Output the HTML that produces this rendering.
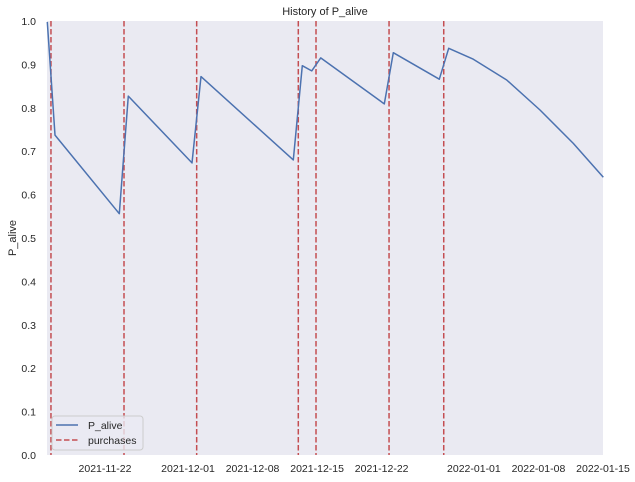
<!DOCTYPE html>
<html><head><meta charset="utf-8"><style>
body{margin:0;background:#fff;}
svg{display:block;font-family:"Liberation Sans",Arial,sans-serif;}
</style></head><body>
<svg id="chart" width="635" height="482" viewBox="0 0 635 482" xmlns="http://www.w3.org/2000/svg">
<rect x="47" y="21" width="556" height="434" fill="#EAEAF2"/>
<g id="marks"></g>
<g id="axes"></g>
<text x="325" y="15" text-anchor="middle" font-size="11" fill="#262626">History of P_alive</text>
<text transform="translate(16,238) rotate(-90)" text-anchor="middle" font-size="11" fill="#262626">P_alive</text>
<g>
<rect x="52" y="416" width="91" height="34" rx="3" fill="#EAEAF2" fill-opacity="0.8" stroke="#cccccc"/>
<line x1="56" y1="425" x2="78" y2="425" stroke="#4C72B0" stroke-width="1.5"/>
<text x="88" y="429" font-size="10.5" fill="#262626">P_alive</text>
<line x1="56" y1="440" x2="78" y2="440" stroke="#C44E52" stroke-width="1.5" stroke-dasharray="5.5,2.5"/>
<text x="88" y="444" font-size="10.5" fill="#262626">purchases</text>
</g>
</svg>
<script>
// days since 2021-11-15 00:00
const lineDays = [0.74,1.58,8.55,9.53,16.43,17.41,27.42,28.39,29.41,30.39,37.29,38.26,43.25,44.27,46.94,50.56,54.17,57.78,61.03];
const lineValues = [0.998,0.737,0.556,0.827,0.673,0.872,0.680,0.897,0.885,0.915,0.809,0.927,0.866,0.937,0.912,0.864,0.795,0.718,0.640];
const purchaseDays = [1.14,9.06,16.94,27.96,29.88,37.80,43.73];
const xTickDays = [7,16,23,30,37,47,54,61];
const xTickLabels = ["2021-11-22","2021-12-01","2021-12-08","2021-12-15","2021-12-22","2022-01-01","2022-01-08","2022-01-15"];
const yTicks = [0,0.1,0.2,0.3,0.4,0.5,0.6,0.7,0.8,0.9,1.0];
const xMin = 0.71, xMax = 61.0;
const X0 = 47, X1 = 603, Y0 = 455, Y1 = 21;
function xScale(d){ return X0 + (d - xMin) / (xMax - xMin) * (X1 - X0); }
function yScale(v){ return Y0 - v * (Y0 - Y1); }
const NS = "http://www.w3.org/2000/svg";
const marks = document.getElementById('marks');
const axes = document.getElementById('axes');
purchaseDays.forEach(function(d){
  const l = document.createElementNS(NS,'line');
  
  
  const x = xScale(d);
  l.setAttribute('x1',x); l.setAttribute('x2',x);
  l.setAttribute('y1',Y1); l.setAttribute('y2',Y0);
  l.setAttribute('stroke','#C44E52'); l.setAttribute('stroke-width','1.5');
  l.setAttribute('stroke-dasharray','5.5,2.5');
  marks.appendChild(l);
});
const pts = lineDays.map(function(d,i){ return xScale(d).toFixed(1)+','+yScale(lineValues[i]).toFixed(1); }).join(' ');
const pl = document.createElementNS(NS,'polyline');


pl.setAttribute('points',pts);
pl.setAttribute('fill','none'); pl.setAttribute('stroke','#4C72B0'); pl.setAttribute('stroke-width','1.5');
pl.setAttribute('stroke-linejoin','round');
marks.appendChild(pl);
yTicks.forEach(function(v){
  const t = document.createElementNS(NS,'text');
  
  
  t.setAttribute('x',36); t.setAttribute('y',yScale(v)+4);
  t.setAttribute('text-anchor','end'); t.setAttribute('font-size','10.5'); t.setAttribute('fill','#262626');
  t.textContent = v.toFixed(1);
  axes.appendChild(t);
});
xTickDays.forEach(function(d,i){
  const t = document.createElementNS(NS,'text');
  
  
  t.setAttribute('x',xScale(d)); t.setAttribute('y',472);
  t.setAttribute('text-anchor','middle'); t.setAttribute('font-size','10.5'); t.setAttribute('fill','#262626');
  t.textContent = xTickLabels[i];
  axes.appendChild(t);
});
</script>
</body></html>
